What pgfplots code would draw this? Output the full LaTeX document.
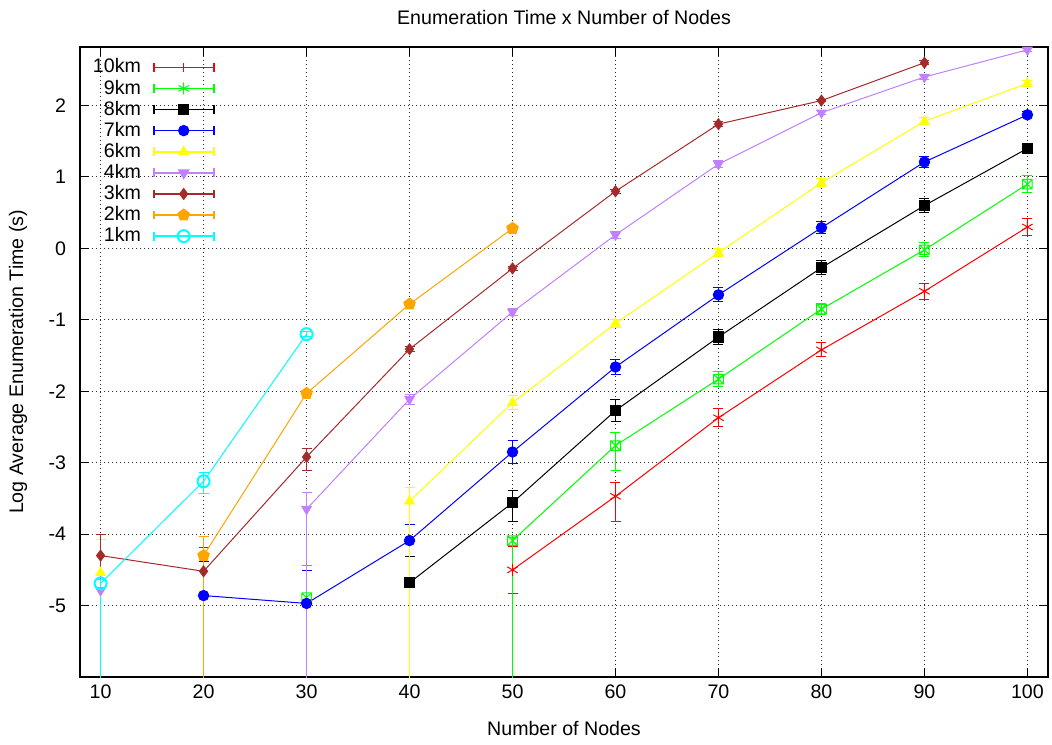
\documentclass[border=0pt]{standalone}
\usepackage{fontspec}
\setmainfont{Liberation Sans}
\usepackage{pgfplots}
\pgfplotsset{compat=1.18}
\usetikzlibrary{plotmarks}

\definecolor{gpred}{RGB}{255,0,0}
\definecolor{gpgreen}{RGB}{0,255,0}
\definecolor{gpblue}{RGB}{0,0,255}
\definecolor{gpyellow}{RGB}{255,255,0}
\definecolor{gppurple}{RGB}{192,128,255}
\definecolor{gpbrown}{RGB}{165,42,42}
\definecolor{gporange}{RGB}{255,165,0}
\definecolor{gpcyan}{RGB}{0,255,255}

% boxed asterisk like gnuplot's overlapped point
\pgfdeclareplotmark{boxast}{%
  \pgfpathrectangle{\pgfqpoint{-\pgfplotmarksize}{-\pgfplotmarksize}}{\pgfqpoint{2\pgfplotmarksize}{2\pgfplotmarksize}}%
  \pgfpathmoveto{\pgfqpoint{-\pgfplotmarksize}{-\pgfplotmarksize}}\pgfpathlineto{\pgfqpoint{\pgfplotmarksize}{\pgfplotmarksize}}%
  \pgfpathmoveto{\pgfqpoint{-\pgfplotmarksize}{\pgfplotmarksize}}\pgfpathlineto{\pgfqpoint{\pgfplotmarksize}{-\pgfplotmarksize}}%
  \pgfpathmoveto{\pgfqpoint{0pt}{-\pgfplotmarksize}}\pgfpathlineto{\pgfqpoint{0pt}{\pgfplotmarksize}}%
  \pgfusepathqstroke}

\newcommand{\gpfont}{\fontsize{9.8}{11}\selectfont}

\pgfplotsset{
  ser/.style={color=#1, line width=0.5pt, mark options={solid, fill=#1, line width=0.5pt},
    forget plot,
    error bars/y dir=both, error bars/y explicit,
    error bars/error mark=|,
    error bars/error bar style={line width=0.5pt, #1},
    error bars/error mark options={#1, mark size=2.5pt, line width=0.5pt}},
  leg/.style={color=#1, draw=#1, line width=0.8pt, mark options={solid, fill=#1, line width=0.5pt},
    legend image code/.code={
      \draw[mark=none] (0pt,0pt) -- (30pt,0pt);
      \draw[mark=none] (0pt,-2.2pt) -- (0pt,2.2pt);
      \draw[mark=none] (30pt,-2.2pt) -- (30pt,2.2pt);
      \draw[draw=none] plot coordinates {(15pt,0pt)};}},
}

\begin{document}
\begin{tikzpicture}
\begin{axis}[
    at={(0,0)}, anchor=south west,
    scale only axis, width=484pt, height=315pt,
    xmin=8, xmax=102, ymin=-6, ymax=2.82,
    xtick={10,20,...,100}, ytick={-5,-4,...,2},
    grid=major,
    grid style={black!85, line width=0.5pt, dash pattern=on 0.5pt off 1.5pt},
    tick align=inside, major tick length=4.5pt,
    tick style={black, line width=0.5pt},
    axis line style={line width=0.6pt},
    /pgf/number format/assume math mode=true,
    tick label style={font=\gpfont},
    xticklabel style={anchor=base, yshift=-10.5pt},
    yticklabel style={anchor=east, xshift=-3.5pt},
    title={Enumeration Time x Number of Nodes},
    title style={font=\gpfont, at={(axis description cs:0.5,1)}, anchor=base, yshift=5pt},
    xlabel={Number of Nodes},
    xlabel style={font=\gpfont, at={(axis description cs:0.5,0)}, anchor=base, yshift=-29pt},
    ylabel={Log Average Enumeration Time (s)},
    ylabel style={font=\gpfont, at={(axis description cs:-0.064,0.5)}, anchor=center},
    legend style={draw=none, fill=none, font=\gpfont,
      at={(axis description cs:0.013,0.982)}, anchor=north west,
      row sep=1.95pt, column sep=6pt, inner sep=0pt, nodes={inner sep=0pt}},
    legend cell align=right, legend plot pos=right,
]
% legend samples (gnuplot style: line with end bars and the point type)
\addlegendimage{leg=gpred, mark=|, mark size=2.2pt}
\addlegendentry{10km}
\addlegendimage{leg=gpgreen, mark=asterisk, mark size=3pt}
\addlegendentry{9km}
\addlegendimage{leg=black, mark=square*, mark size=2.6pt}
\addlegendentry{8km}
\addlegendimage{leg=gpblue, mark=*, mark size=2.6pt}
\addlegendentry{7km}
\addlegendimage{leg=gpyellow, mark=triangle*, mark size=2.7pt}
\addlegendentry{6km}
\addlegendimage{leg=gppurple, mark=triangle*, mark size=2.7pt, mark options={rotate=180}}
\addlegendentry{4km}
\addlegendimage{leg=gpbrown, mark=diamond*, mark size=2.7pt}
\addlegendentry{3km}
\addlegendimage{leg=gporange, mark=pentagon*, mark size=3pt}
\addlegendentry{2km}
\addlegendimage{leg=gpcyan, mark=o, mark size=3pt, mark options={line width=1pt, fill=none}}
\addlegendentry{1km}

% 10km
\addplot[ser=gpred, mark=asterisk, mark size=3pt] coordinates {
  (50,-4.50) += (0,0.33) -= (0,0.33)
  (60,-3.47) += (0,0.19) -= (0,0.36)
  (70,-2.37) += (0,0.13) -= (0,0.13)
  (80,-1.42) += (0,0.10) -= (0,0.10)
  (90,-0.60) += (0,0.11) -= (0,0.11)
  (100,0.30) += (0,0.12) -= (0,0.12)
};
% 9km
\addplot[ser=gpgreen, mark=boxast, mark size=2.4pt] coordinates {
  (50,-4.09) += (0,0.05) -= (0,3)
  (60,-2.76) += (0,0.18) -= (0,0.35)
  (70,-1.83) += (0,0.10) -= (0,0.10)
  (80,-0.85) += (0,0.08) -= (0,0.08)
  (90,-0.02) += (0,0.10) -= (0,0.10)
  (100,0.90) += (0,0.12) -= (0,0.12)
};
\addplot[ser=gpgreen, mark=boxast, mark size=2.4pt] coordinates {
  (30,-4.89) += (0,0.45) -= (0,3)
};
% 8km
\addplot[ser=black, mark=square*, mark size=2.6pt] coordinates {
  (40,-4.68) += (0,0.37) -= (0,3)
  (50,-3.56) += (0,0.17) -= (0,0.27)
  (60,-2.27) += (0,0.16) -= (0,0.16)
  (70,-1.24) += (0,0.10) -= (0,0.10)
  (80,-0.27) += (0,0.10) -= (0,0.10)
  (90,0.60) += (0,0.10) -= (0,0.10)
  (100,1.40) += (0,0.05) -= (0,0.05)
};
% 7km
\addplot[ser=gpblue, mark=*, mark size=2.6pt] coordinates {
  (20,-4.86) += (0,0.48) -= (0,3)
  (30,-4.97) += (0,0.46) -= (0,3)
  (40,-4.09) += (0,0.22) -= (0,3)
  (50,-2.85) += (0,0.16) -= (0,0.16)
  (60,-1.66) += (0,0.11) -= (0,0.11)
  (70,-0.65) += (0,0.10) -= (0,0.10)
  (80,0.29) += (0,0.08) -= (0,0.08)
  (90,1.21) += (0,0.08) -= (0,0.08)
  (100,1.87) += (0,0.04) -= (0,0.04)
};
% 6km
\addplot[ser=gpyellow, mark=triangle*, mark size=2.7pt] coordinates {
  (40,-3.54) += (0,0.19) -= (0,3)
  (50,-2.16) += (0,0.10) -= (0,0.10)
  (60,-1.05) += (0,0.06) -= (0,0.06)
  (70,-0.06) += (0,0.06) -= (0,0.06)
  (80,0.92) += (0,0.06) -= (0,0.06)
  (90,1.78) += (0,0.05) -= (0,0.05)
  (100,2.31) += (0,0.04) -= (0,0.04)
};
\addplot[ser=gpyellow, mark=triangle*, mark size=2.7pt] coordinates {
  (10,-4.54) += (0,0.46) -= (0,3)
};
% 4km
\addplot[ser=gppurple, mark=triangle*, mark size=2.7pt, mark options={rotate=180}] coordinates {
  (30,-3.65) += (0,0.23) -= (0,3)
  (40,-2.11) += (0,0.07) -= (0,0.07)
  (50,-0.89) += (0,0.05) -= (0,0.05)
  (60,0.19) += (0,0.05) -= (0,0.05)
  (70,1.18) += (0,0.05) -= (0,0.05)
  (80,1.90) += (0,0.03) -= (0,0.03)
  (90,2.40) += (0,0.03) -= (0,0.03)
  (100,2.78) += (0,0.02) -= (0,0.02)
};
\addplot[ser=gppurple, mark=triangle*, mark size=2.7pt, mark options={rotate=180}] coordinates {
  (10,-4.79) += (0,0.05) -= (0,3)
};
% 3km
\addplot[ser=gpbrown, mark=diamond*, mark size=2.7pt] coordinates {
  (10,-4.30) += (0,0.29) -= (0,3)
  (20,-4.52) += (0,0.33) -= (0,3)
  (30,-2.92) += (0,0.12) -= (0,0.19)
  (40,-1.41) += (0,0.03) -= (0,0.03)
  (50,-0.28) += (0,0.03) -= (0,0.03)
  (60,0.80) += (0,0.03) -= (0,0.03)
  (70,1.74) += (0,0.04) -= (0,0.04)
  (80,2.07) += (0,0.02) -= (0,0.02)
  (90,2.60) += (0,0.03) -= (0,0.03)
};
% 2km
\addplot[ser=gporange, mark=pentagon*, mark size=3pt] coordinates {
  (20,-4.30) += (0,0.27) -= (0,3)
  (30,-2.03) += (0,0.02) -= (0,0.02)
  (40,-0.78) += (0,0.02) -= (0,0.02)
  (50,0.28) += (0,0.02) -= (0,0.02)
};
% 1km
\addplot[ser=gpcyan, mark=o, mark size=3pt, mark options={line width=1pt, fill=none}] coordinates {
  (10,-4.69) += (0,0.05) -= (0,3)
  (20,-3.26) += (0,0.12) -= (0,0.17)
  (30,-1.20) += (0,0.03) -= (0,0.03)
};
\end{axis}
\pgfresetboundingbox
\path[use as bounding box] (-40pt,-33.5pt) rectangle (486pt,338.5pt);
\end{tikzpicture}
\end{document}
